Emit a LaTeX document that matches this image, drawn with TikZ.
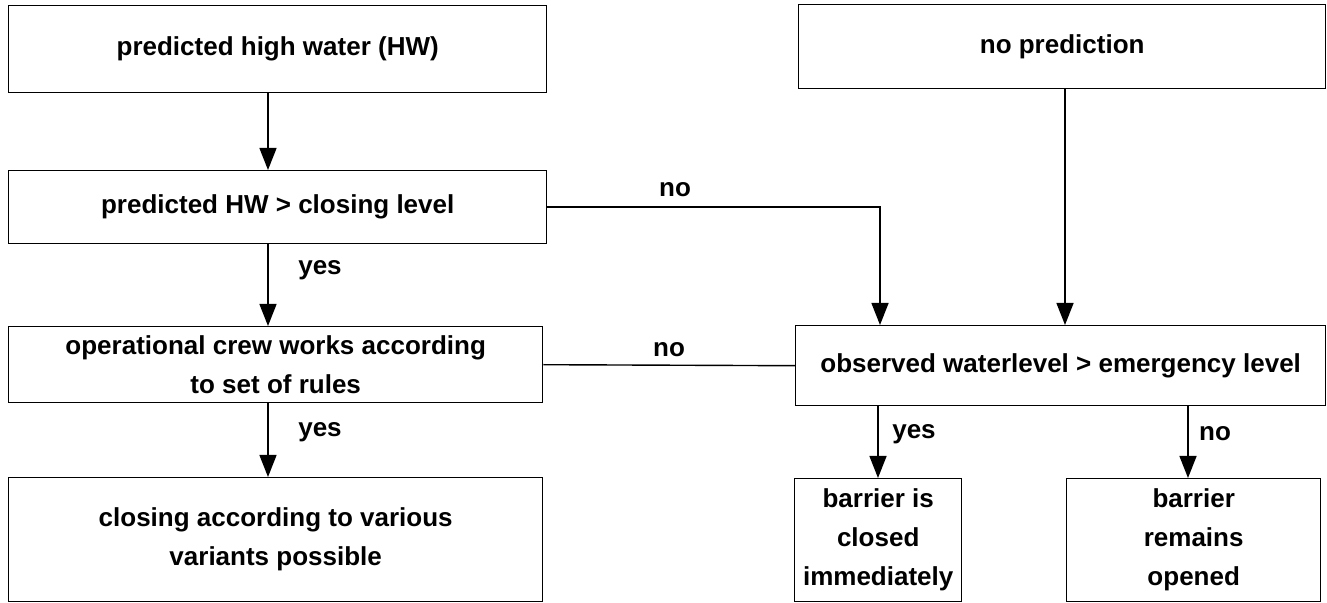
\documentclass[tikz,border=0pt]{standalone}
\usepackage{fontspec}
\setmainfont{Liberation Sans}
\usetikzlibrary{arrows.meta}
\begin{document}
\begin{tikzpicture}[x=0.5pt,y=-0.5pt,
  box/.style={draw, line width=0.7pt, inner sep=0pt, anchor=north west, align=center,
    font=\bfseries\fontsize{13}{19.5}\selectfont},
  lbl/.style={inner sep=0pt, font=\bfseries\fontsize{13}{19.5}\selectfont},
  conn/.style={line width=0.7pt},
  arr/.style={conn, -{Triangle[length=11pt,width=8.5pt]}}]
\useasboundingbox (0,0) rectangle (1327,603);
% boxes
\node[box, minimum width=269pt, minimum height=43.5pt] (A) at (8,5) {predicted high water (HW)};
\node[box, minimum width=269pt, minimum height=36.5pt] (B) at (8,170) {predicted HW > closing level};
\node[box, minimum width=267pt, minimum height=38pt] (C) at (8,326) {operational crew works according\\to set of rules};
\node[box, minimum width=267pt, minimum height=62pt] (D) at (8,477) {closing according to various\\variants possible};
\node[box, minimum width=263.5pt, minimum height=42pt] (NP) at (798,4) {no prediction};
\node[box, minimum width=265pt, minimum height=40pt] (E) at (795,325) {observed waterlevel > emergency level};
\node[box, minimum width=83.5pt, minimum height=61.5pt] (BI) at (794,478) {barrier is\\closed\\immediately};
\node[box, minimum width=127pt, minimum height=61.5pt] (BR) at (1066,478) {barrier\\remains\\opened};
% column coordinates
\coordinate (lx) at (268,0);
\coordinate (cx1) at (880,0);
\coordinate (cx2) at (1065,0);
\coordinate (bx1) at (878,0);
\coordinate (bx2) at (1188,0);
% connectors
\draw[arr] (A.south -| lx) -- (B.north -| lx);
\draw[arr] (B.south -| lx) -- (C.north -| lx);
\draw[arr] (C.south -| lx) -- (D.north -| lx);
\draw[arr] (B.east) -- (B.east -| cx1) -- (E.north -| cx1);
\draw[arr] (NP.south -| cx2) -- (E.north -| cx2);
\draw[conn] (C.east) -- (E.west);
\draw[arr] (E.south -| bx1) -- (BI.north -| bx1);
\draw[arr] (E.south -| bx2) -- (BR.north -| bx2);
% labels
\node[lbl] (l1) at (675,190) {no};
\node[lbl] (l2) at (320,270) {yes};
\node[lbl] (l3) at (669,350) {no};
\node[lbl] (l4) at (320,432) {yes};
\node[lbl] (l5) at (914,434) {yes};
\node[lbl] (l6) at (1215,434) {no};
\end{tikzpicture}
\end{document}
